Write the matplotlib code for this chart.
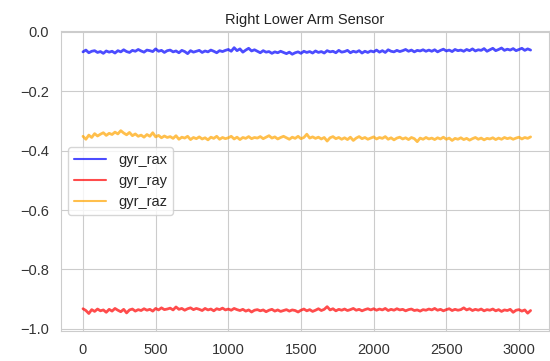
import numpy as np
import matplotlib
matplotlib.use("Agg")
import matplotlib.pyplot as plt
import seaborn as sns

gyr_rax = [
    -0.068, -0.062, -0.071, -0.066, -0.064, -0.070, -0.067, -0.073, -0.065, -0.069,
    -0.066, -0.072, -0.064, -0.068, -0.061, -0.067, -0.070, -0.063, -0.066, -0.060,
    -0.065, -0.069, -0.062, -0.064, -0.067, -0.058, -0.066, -0.063, -0.070, -0.064,
    -0.062, -0.068, -0.065, -0.071, -0.063, -0.067, -0.074, -0.064, -0.069, -0.066,
    -0.063, -0.070, -0.065, -0.068, -0.062, -0.066, -0.071, -0.064, -0.067, -0.063,
    -0.060, -0.066, -0.054, -0.064, -0.058, -0.069, -0.062, -0.056, -0.065, -0.061,
    -0.066, -0.071, -0.064, -0.069, -0.067, -0.073, -0.068, -0.071, -0.066, -0.070,
    -0.074, -0.069, -0.076, -0.071, -0.068, -0.073, -0.066, -0.070, -0.067, -0.072,
    -0.065, -0.070, -0.067, -0.072, -0.064, -0.068, -0.066, -0.071, -0.063, -0.069,
    -0.067, -0.063, -0.071, -0.066, -0.069, -0.064, -0.072, -0.066, -0.070, -0.065,
    -0.068, -0.062, -0.069, -0.064, -0.070, -0.061, -0.066, -0.068, -0.063, -0.067,
    -0.064, -0.060, -0.066, -0.062, -0.068, -0.063, -0.065, -0.061, -0.066, -0.062,
    -0.066, -0.061, -0.068, -0.063, -0.059, -0.065, -0.062, -0.067, -0.060, -0.064,
    -0.062, -0.066, -0.060, -0.064, -0.058, -0.065, -0.061, -0.063, -0.057, -0.066,
    -0.061, -0.056, -0.064, -0.060, -0.055, -0.063, -0.059, -0.062, -0.057, -0.064,
    -0.060, -0.056, -0.063, -0.058, -0.062,
]

gyr_ray = [
    -0.932, -0.938, -0.948, -0.935, -0.941, -0.933, -0.939, -0.936, -0.944, -0.934,
    -0.940, -0.931, -0.937, -0.942, -0.934, -0.946, -0.936, -0.933, -0.940, -0.935,
    -0.938, -0.932, -0.937, -0.934, -0.940, -0.931, -0.936, -0.929, -0.935, -0.933,
    -0.930, -0.936, -0.926, -0.934, -0.931, -0.937, -0.932, -0.929, -0.935, -0.931,
    -0.934, -0.938, -0.931, -0.936, -0.933, -0.939, -0.932, -0.935, -0.930, -0.936,
    -0.933, -0.937, -0.931, -0.935, -0.938, -0.934, -0.940, -0.936, -0.943, -0.937,
    -0.935, -0.939, -0.936, -0.942, -0.937, -0.934, -0.940, -0.936, -0.941, -0.938,
    -0.935, -0.940, -0.936, -0.938, -0.943, -0.937, -0.933, -0.939, -0.935, -0.941,
    -0.937, -0.932, -0.938, -0.934, -0.925, -0.936, -0.932, -0.939, -0.934, -0.937,
    -0.933, -0.938, -0.935, -0.931, -0.937, -0.934, -0.939, -0.935, -0.932, -0.936,
    -0.932, -0.937, -0.933, -0.936, -0.931, -0.938, -0.934, -0.937, -0.932, -0.936,
    -0.934, -0.939, -0.935, -0.933, -0.938, -0.936, -0.940, -0.935, -0.937, -0.933,
    -0.936, -0.931, -0.937, -0.934, -0.939, -0.935, -0.932, -0.938, -0.934, -0.937,
    -0.935, -0.929, -0.936, -0.932, -0.938, -0.934, -0.937, -0.933, -0.939, -0.935,
    -0.937, -0.933, -0.939, -0.935, -0.941, -0.936, -0.938, -0.934, -0.944, -0.937,
    -0.935, -0.940, -0.936, -0.947, -0.938,
]

gyr_raz = [
    -0.352, -0.362, -0.348, -0.356, -0.343, -0.351, -0.345, -0.340, -0.349, -0.342,
    -0.346, -0.338, -0.344, -0.333, -0.341, -0.347, -0.339, -0.350, -0.344, -0.352,
    -0.348, -0.355, -0.346, -0.352, -0.340, -0.354, -0.349, -0.357, -0.351, -0.356,
    -0.353, -0.359, -0.350, -0.362, -0.355, -0.358, -0.352, -0.363, -0.356, -0.360,
    -0.354, -0.361, -0.357, -0.364, -0.355, -0.359, -0.352, -0.362, -0.356, -0.360,
    -0.357, -0.352, -0.361, -0.355, -0.363, -0.356, -0.359, -0.353, -0.360, -0.356,
    -0.358, -0.353, -0.360, -0.355, -0.350, -0.358, -0.354, -0.361, -0.356, -0.352,
    -0.357, -0.362, -0.355, -0.359, -0.352, -0.360, -0.356, -0.345, -0.358, -0.354,
    -0.359, -0.355, -0.361, -0.356, -0.368, -0.357, -0.353, -0.360, -0.356, -0.362,
    -0.357, -0.363, -0.355, -0.366, -0.358, -0.353, -0.360, -0.356, -0.362, -0.358,
    -0.354, -0.361, -0.356, -0.359, -0.353, -0.362, -0.357, -0.364, -0.358, -0.355,
    -0.361, -0.357, -0.363, -0.356, -0.360, -0.370, -0.358, -0.362, -0.356, -0.361,
    -0.358, -0.363, -0.357, -0.361, -0.355, -0.362, -0.358, -0.366, -0.359, -0.362,
    -0.357, -0.363, -0.359, -0.365, -0.360, -0.356, -0.362, -0.358, -0.364, -0.359,
    -0.361, -0.357, -0.363, -0.358, -0.362, -0.356, -0.360, -0.357, -0.362, -0.358,
    -0.355, -0.361, -0.356, -0.359, -0.354,
]

sample_index = np.arange(len(gyr_rax)) * 20

series_names = ["gyr_rax", "gyr_ray", "gyr_raz"]
series_values = [gyr_rax, gyr_ray, gyr_raz]
series_colors = ["blue", "red", "orange"]

sns.set_style("whitegrid")
plt.rcParams["font.family"] = ["Liberation Sans", "DejaVu Sans"]

fig = plt.figure(figsize=(5.5, 3.61), dpi=100)
ax = fig.add_axes([0.111, 0.083, 0.887, 0.831])

for name, vals, col in zip(series_names, series_values, series_colors):
    ax.plot(sample_index, vals, color=col, alpha=0.7, linewidth=2.0, label=name)

ax.set_xlim(-151, 3206)
ax.set_ylim(-1.007, 0.002)
ax.set_xticks([0, 500, 1000, 1500, 2000, 2500, 3000])
ax.set_yticks([0.0, -0.2, -0.4, -0.6, -0.8, -1.0])
ax.tick_params(labelsize=10.5, colors="#333333", pad=5)
ax.set_title("Right Lower Arm Sensor", fontsize=10.5, color="#222222", pad=5)
leg = ax.legend(loc="center left", fontsize=10.5, frameon=True, handlelength=2.2,
                borderpad=0.4, labelspacing=0.5)
for h in leg.get_lines():
    h.set_linewidth(1.5)

fig.savefig("out.png", dpi=100)
